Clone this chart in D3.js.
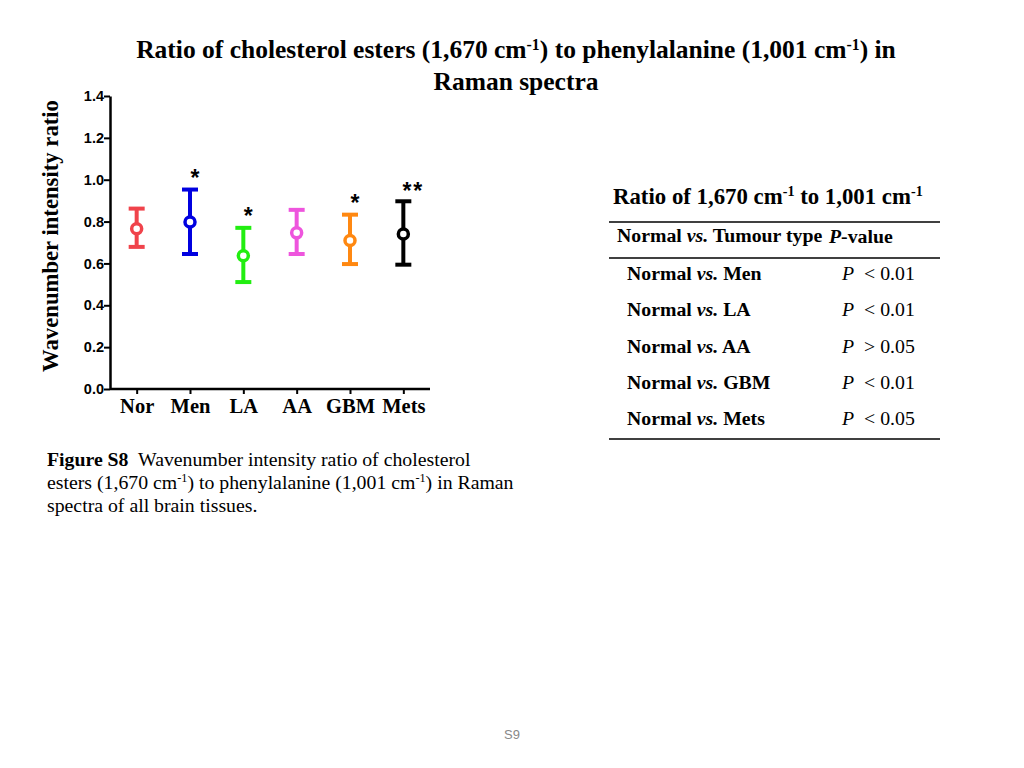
<!DOCTYPE html>
<html>
<head>
<meta charset="utf-8">
<script src="https://cdn.jsdelivr.net/npm/d3@7"></script>
<style>
  body { margin: 0; background: #fff; }
</style>
</head>
<body>
<svg id="chart" width="1024" height="768" font-family="Liberation Serif, Times New Roman, serif"></svg>
<script>
// groups and their mean +/- error
const groups = ["Nor", "Men", "LA", "AA", "GBM", "Mets"]
const means = [0.766, 0.798, 0.637, 0.746, 0.71, 0.741]
const upper = [0.862, 0.953, 0.77, 0.856, 0.833, 0.897]
const lower = [0.679, 0.645, 0.511, 0.645, 0.597, 0.594]
const colors = ["#f0434b", "#0000e0", "#22ee11", "#ee55dd", "#ff8811", "#000000"]
const stars = ["", "*", "*", "", "*", "**"]
const yTicks = [0, 0.2, 0.4, 0.6, 0.8, 1.0, 1.2, 1.4]

const tableRows = ["Men", "LA", "AA", "GBM", "Mets"]
const tableSign = ["<", "<", ">", "<", "<"]
const tableP = ["0.01", "0.01", "0.05", "0.01", "0.05"]

const svg = d3.select("#chart")
const sans = "Liberation Sans, Arial, sans-serif"

const x = d3.scalePoint().domain(groups).range([110, 430]).padding(0.5)
const y = d3.scaleLinear().domain([0, 1.4]).range([389, 96])

// text with superscript bits
function supText(sel, parts) {
  parts.forEach(p => {
    const t = sel.append("tspan").text(p.t)
    if (p.sup) t.attr("baseline-shift", "super").attr("font-size", "0.62em")
  })
}

const title1 = svg.append("text").attr("x", 516).attr("y", 58)
  .attr("text-anchor", "middle").attr("font-size", 25.5).attr("font-weight", "bold")
supText(title1, [{t: "Ratio of cholesterol esters (1,670 cm"}, {t: "-1", sup: true},
  {t: ") to phenylalanine (1,001 cm"}, {t: "-1", sup: true}, {t: ") in"}])
svg.append("text").attr("x", 516).attr("y", 90)
  .attr("text-anchor", "middle").attr("font-size", 25.5).attr("font-weight", "bold")
  .text("Raman spectra")

// y axis
const yAxis = svg.append("g").attr("transform", "translate(110,0)")
  .call(d3.axisLeft(y).tickValues(yTicks).tickFormat(d3.format(".1f")).tickSize(6).tickSizeOuter(0))
yAxis.select(".domain").attr("stroke-width", 2.5)
yAxis.selectAll(".tick line").attr("stroke-width", 2)
yAxis.selectAll(".tick text")
  .attr("font-family", sans)
  .attr("font-weight", "bold").attr("font-size", 14.5).attr("x", -6)

// x axis
const xAxis = svg.append("g").attr("transform", "translate(0,389)")
  .call(d3.axisBottom(x).tickSize(5).tickSizeOuter(0))
xAxis.select(".domain").attr("stroke-width", 2.5).attr("d", "M110,0H430")
xAxis.selectAll(".tick line").attr("stroke-width", 2)
xAxis.selectAll(".tick text")
  .attr("font-family", "Liberation Serif, Times New Roman, serif")
  .attr("font-weight", "bold").attr("font-size", 20.5).attr("y", 9)

svg.append("text")
  .attr("transform", "translate(58,236) rotate(-90)")
  .attr("text-anchor", "middle").attr("font-size", 22.7).attr("font-weight", "bold")
  .text("Wavenumber intensity ratio")

// error bars
const bars = svg.append("g").selectAll("g")
  .data(groups.map((g, i) => ({g, m: means[i], hi: upper[i], lo: lower[i], c: colors[i], s: stars[i]})))
  .enter().append("g")

bars.append("line")
  .attr("x1", d => x(d.g)).attr("x2", d => x(d.g))
  .attr("y1", d => y(d.hi)).attr("y2", d => y(d.lo))
  .attr("stroke", d => d.c).attr("stroke-width", 4)
bars.selectAll(".cap")
  .data(d => [{d, v: d.hi}, {d, v: d.lo}])
  .enter().append("line")
  .attr("class", "cap")
  .attr("x1", e => x(e.d.g) - 8).attr("x2", e => x(e.d.g) + 8)
  .attr("y1", e => y(e.v)).attr("y2", e => y(e.v))
  .attr("stroke", e => e.d.c).attr("stroke-width", 4)
bars.append("circle")
  .attr("cx", d => x(d.g)).attr("cy", d => y(d.m)).attr("r", 5)
  .attr("fill", "#fff").attr("stroke", d => d.c).attr("stroke-width", 3.5)
bars.append("text")
  .attr("x", d => x(d.g) + (d.s.length > 1 ? 10 : 6))
  .attr("y", d => y(d.hi) - (d.s.length > 1 ? 2 : 4))
  .attr("text-anchor", "middle")
  .attr("font-family", sans)
  .attr("font-weight", "bold").attr("font-size", 23)
  .attr("letter-spacing", 2)
  .text(d => d.s)

// table on the right
const tbl = svg.append("g")
const tt = tbl.append("text").attr("x", 613).attr("y", 204)
  .attr("font-size", 22.8).attr("font-weight", "bold")
supText(tt, [{t: "Ratio of 1,670 cm"}, {t: "-1", sup: true}, {t: " to 1,001 cm"}, {t: "-1", sup: true}])

const rules = [222, 258, 439]
tbl.selectAll("line").data(rules).enter().append("line")
  .attr("x1", 609).attr("x2", 940).attr("y1", d => d).attr("y2", d => d)
  .attr("stroke", "#000").attr("stroke-width", 1.5)

const hdr = tbl.append("text").attr("x", 617).attr("y", 242).attr("font-size", 19.8).attr("font-weight", "bold")
hdr.append("tspan").text("Normal ")
hdr.append("tspan").attr("font-style", "italic").text("vs.")
hdr.append("tspan").text(" Tumour type")
const ph = tbl.append("text").attr("x", 829).attr("y", 243).attr("font-size", 19.8).attr("font-weight", "bold")
ph.append("tspan").attr("font-style", "italic").text("P")
ph.append("tspan").text("-value")

const rowY = d3.scaleLinear().domain([0, 4]).range([280, 425])
tableRows.forEach((r, i) => {
  const t = tbl.append("text").attr("x", 627).attr("y", rowY(i)).attr("font-size", 19.8).attr("font-weight", "bold")
  t.append("tspan").text("Normal ")
  t.append("tspan").attr("font-style", "italic").text("vs.")
  t.append("tspan").text(" " + r)
  const p = tbl.append("text").attr("x", 842).attr("y", rowY(i)).attr("font-size", 19.8)
  p.append("tspan").attr("font-style", "italic").text("P")
  p.append("tspan").attr("dx", 10).text(tableSign[i] + " " + tableP[i])
})

// caption
const cap = svg.append("g").attr("font-size", 19.8)
const c1 = cap.append("text").attr("x", 47).attr("y", 466)
c1.append("tspan").attr("font-weight", "bold").text("Figure S8")
c1.append("tspan").attr("xml:space", "preserve").text("  Wavenumber intensity ratio of cholesterol")
const c2 = cap.append("text").attr("x", 47).attr("y", 489)
supText(c2, [{t: "esters (1,670 cm"}, {t: "-1", sup: true}, {t: ") to phenylalanine (1,001 cm"}, {t: "-1", sup: true}, {t: ") in Raman"}])
cap.append("text").attr("x", 47).attr("y", 512).text("spectra of all brain tissues.")

svg.append("text").attr("x", 512).attr("y", 739).attr("text-anchor", "middle")
  .attr("font-family", sans).attr("font-size", 13).attr("fill", "#888")
  .text("S9")
</script>
</body>
</html>
